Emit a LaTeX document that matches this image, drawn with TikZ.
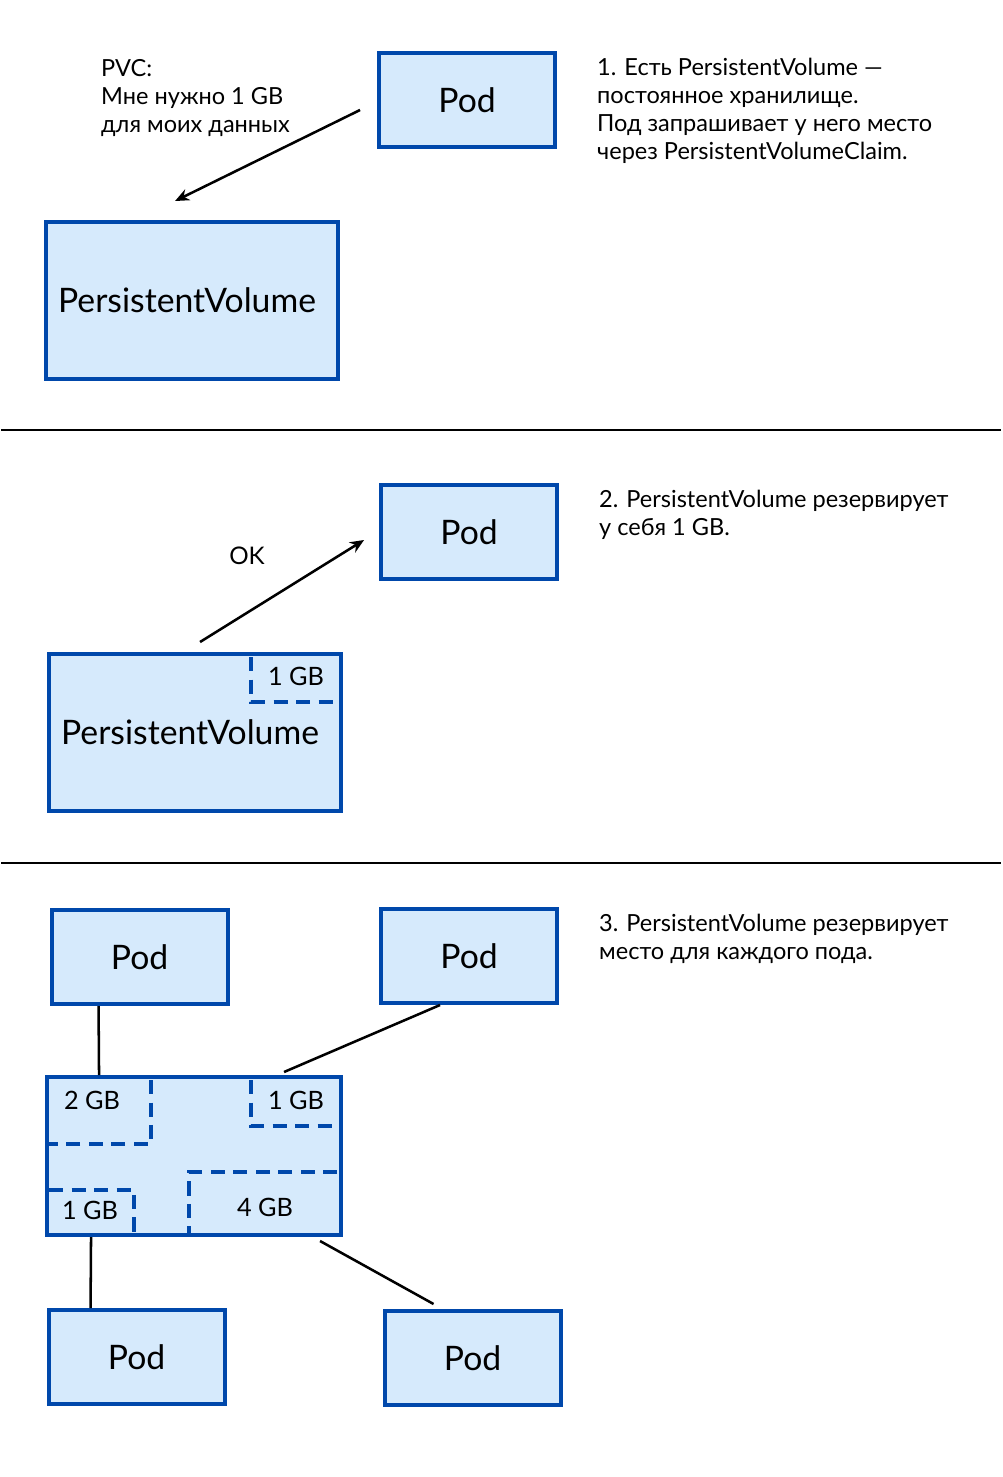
\documentclass[tikz,border=0pt]{standalone}
\usepackage{fontspec}
\setmainfont{Lato}
\usetikzlibrary{arrows.meta,calc}
\definecolor{pvfill}{RGB}{214,234,252}
\definecolor{pvblue}{RGB}{0,72,171}
\begin{document}
\begin{tikzpicture}[x=0.05cm,y=-0.05cm,
  box/.style={draw=pvblue,fill=pvfill,line width=5.7pt,inner sep=0pt},
  podbox/.style={box,minimum width=176*0.05cm,minimum height=94*0.05cm,font=\fontsize{48pt}{56pt}\selectfont},
  pvbox/.style={box,minimum width=292*0.05cm,minimum height=157*0.05cm,font=\fontsize{48pt}{56pt}\selectfont},
  note/.style={align=left,inner sep=0pt,anchor=north west,font=\fontsize{33.5pt}{39.8pt}\selectfont},
  gb/.style={inner sep=0pt,font=\fontsize{36pt}{42pt}\selectfont},
  dashline/.style={draw=pvblue,line width=5.7pt,dash pattern=on 20pt off 12pt},
  conn/.style={draw=black,line width=3.6pt},
  arr/.style={conn,-{Stealth[length=20pt,width=17pt]}},
  sep/.style={draw=black,line width=3pt}]
\fill[white] (0,0) rectangle (1000,1477);

% ---------- Section 1 ----------
\node[podbox] (pod1) at (466,100) {Pod};
\node[pvbox] (pv1) at (191,300.5) {PersistentVolume\hspace*{0.5cm}};
\node[note] (pvc) at (100,59) {PVC:\\Мне нужно 1 GB\\для моих данных};
\node[note] (t1) at (596,58) {1. Есть PersistentVolume —\\постоянное хранилище.\\Под запрашивает у него место\\через PersistentVolumeClaim.};
\draw[arr] ($(pod1.west)+(-17,10)$) -- ($(pv1.north west)+(131,-19)$);

\coordinate (s1a) at (0,430);
\coordinate (s1b) at (1000,430);
\draw[sep] (s1a) -- (s1b);

% ---------- Section 2 ----------
\node[podbox] (pod2) at (468,532) {Pod};
\node[pvbox] (pv2) at (194,732.5) {PersistentVolume\hspace*{0.5cm}};
\draw[dashline] (250,657) -- (250,702) -- (336,702);
\node[gb] (g21) at (295,676) {1~GB};
\node[note] (t2) at (598,490) {2. PersistentVolume резервирует\\у себя 1 GB.};
\node[inner sep=0pt,font=\fontsize{34.5pt}{40pt}\selectfont] (ok) at (246,556) {OK};
\draw[arr] ($(pv2.north west)+(153,-10)$) -- ($(pod2.west)+(-15,8)$);

\coordinate (s2a) at (0,863);
\coordinate (s2b) at (1000,863);
\draw[sep] (s2a) -- (s2b);

% ---------- Section 3 ----------
\node[podbox] (pod3a) at (138.5,957) {Pod};
\node[podbox] (pod3b) at (468,956) {Pod};
\node[box,minimum width=294*0.05cm,minimum height=158*0.05cm] (pv3) at (193,1156) {};
\node[podbox] (pod3c) at (135.5,1357) {Pod};
\node[podbox] (pod3d) at (471.5,1358) {Pod};
\node[note] (t3) at (598,914) {3. PersistentVolume резервирует\\место для каждого пода.};

\draw[dashline] (150,1080) -- (150,1144) -- (48,1144);
\draw[dashline] (250,1080) -- (250,1126) -- (336,1126);
\draw[dashline] (336,1172) -- (188,1172) -- (188,1235);
\draw[dashline] (48,1190) -- (133,1190) -- (133,1235);
\node[gb] (g31) at (91,1100) {2~GB};
\node[gb] (g32) at (295,1100) {1~GB};
\node[gb] (g33) at (89,1210) {1~GB};
\node[gb] (g34) at (264,1207) {4~GB};

\draw[conn] ($(pod3a.south west)+(49,0)$) -- ($(pv3.north west)+(54,0)$);
\draw[conn] ($(pod3b.south west)+(61,0)$) -- ($(pv3.north west)+(239,-3)$);
\draw[conn] ($(pv3.south west)+(46,0)$) -- ($(pod3c.north west)+(44,0)$);
\draw[conn] ($(pv3.south west)+(275,4)$) -- ($(pod3d.north west)+(51,-5)$);
\end{tikzpicture}
\end{document}
